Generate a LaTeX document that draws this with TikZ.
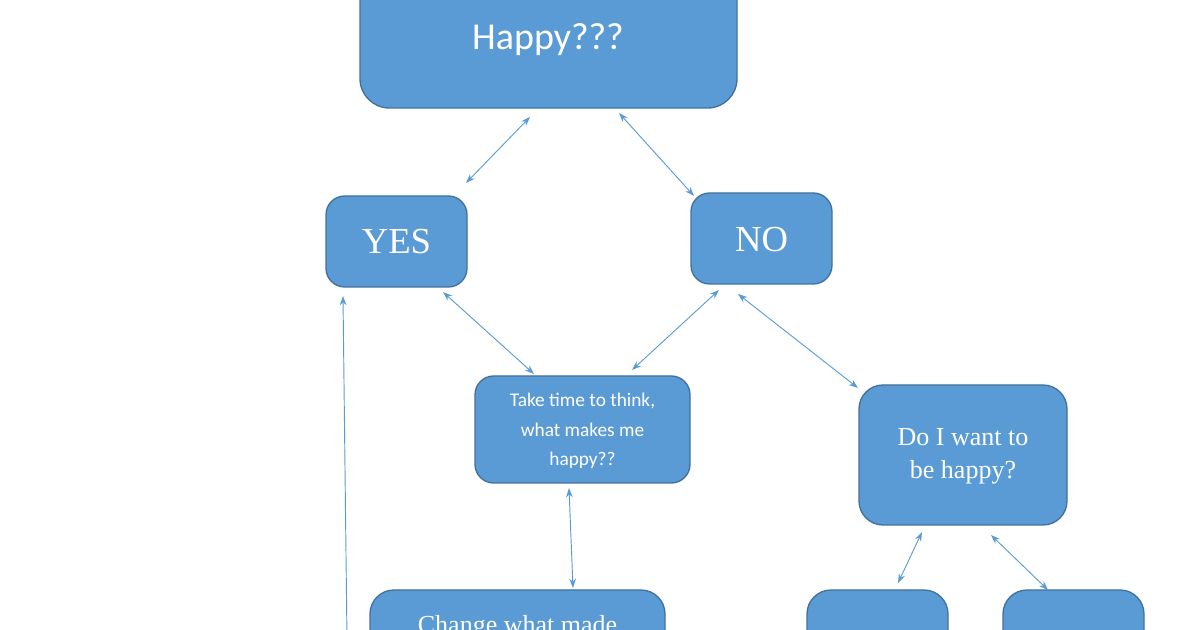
\documentclass[tikz,border=0pt]{standalone}
\usepackage{fontspec}
\setmainfont{Liberation Serif}
\newfontfamily\calfont{Carlito}
\usetikzlibrary{arrows.meta}
\definecolor{bfill}{HTML}{5B9BD5}
\definecolor{bedge}{HTML}{41719C}
\begin{document}
\begin{tikzpicture}[x=0.75pt,y=-0.75pt,
  box/.style={draw=bedge,line width=1pt,fill=bfill,rounded corners=14pt},
  lbl/.style={text=white,align=center,inner sep=0pt},
  dbl/.style={draw=bfill,line width=0.7pt,{Stealth[length=7pt,width=5pt]}-{Stealth[length=7pt,width=5pt]}},
  sgl/.style={draw=bfill,line width=0.7pt,-{Stealth[length=7pt,width=5pt]}}]
\useasboundingbox (0,0) rectangle (1200,630);
\clip (0,0) rectangle (1200,630);
\draw[box,rounded corners=22pt] (360,-80) rectangle (737,108);
\node[lbl,font=\calfont\fontsize{28.5}{32}\selectfont] (top) at (548,40) {Happy???};
\draw[box] (326,196) rectangle (467,287);
\node[lbl,font=\fontsize{27.5}{30}\selectfont] (yes) at (396.5,242) {YES};
\draw[box] (691,193) rectangle (832,284);
\node[lbl,font=\fontsize{27.5}{30}\selectfont] (no) at (761.5,240) {NO};
\draw[box] (475,376) rectangle (690,483);
\node[lbl,font=\calfont\fontsize{14.5}{22}\selectfont] (think) at (582.5,431) {Take time to think,\\what makes me\\happy??};
\draw[box,rounded corners=18pt] (859,385) rectangle (1067,525);
\node[lbl,font=\fontsize{19.5}{25}\selectfont] (want) at (963,456) {Do I want to\\be happy?};
\draw[box,rounded corners=18pt] (370,590) rectangle (665,700);
\node[lbl,font=\fontsize{19.5}{25}\selectfont] (change) at (517.5,627) {Change what made};
\draw[box,rounded corners=18pt] (807,590) rectangle (948,700);
\draw[box,rounded corners=18pt] (1003,590) rectangle (1144,700);
\coordinate (a1) at (530,117); \coordinate (a2) at (466,183);
\coordinate (b1) at (619,113); \coordinate (b2) at (694,196);
\coordinate (c1) at (443,292); \coordinate (c2) at (534,374);
\coordinate (d1) at (719,290); \coordinate (d2) at (632,370);
\coordinate (e1) at (738,294); \coordinate (e2) at (858,388);
\coordinate (f1) at (569,488); \coordinate (f2) at (573,588);
\coordinate (g1) at (922,532); \coordinate (g2) at (898,583);
\coordinate (h1) at (991,535); \coordinate (h2) at (1048,590);
\coordinate (i1) at (347,640); \coordinate (i2) at (343,296);
\draw[dbl] (a1)--(a2); \draw[dbl] (b1)--(b2);
\draw[dbl] (c1)--(c2); \draw[dbl] (d1)--(d2);
\draw[dbl] (e1)--(e2); \draw[dbl] (f1)--(f2);
\draw[dbl] (g1)--(g2); \draw[dbl] (h1)--(h2);
\draw[sgl] (i1)--(i2);
\end{tikzpicture}
\end{document}
